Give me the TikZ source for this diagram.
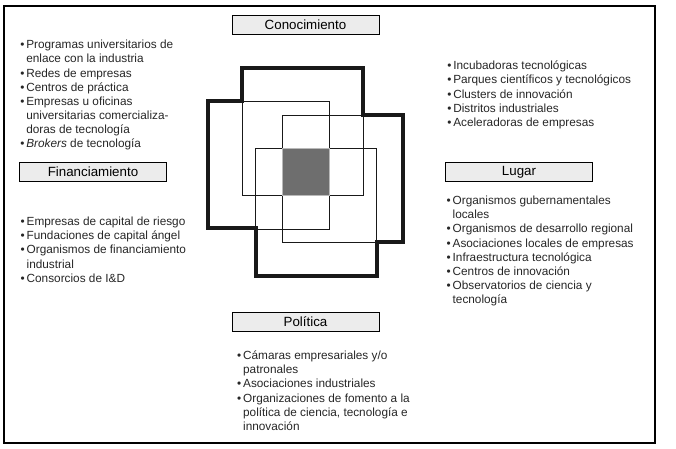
\documentclass[tikz,border=0pt]{standalone}
\usepackage{fontspec}
\setmainfont{Liberation Sans}
\usetikzlibrary{positioning}

\newcommand{\vin}{\rule{0pt}{8.1pt}\makebox[4.5pt][l]{\textbullet}}
\newcommand{\sgte}{\hspace*{4.5pt}}

\tikzset{
  etiqueta/.style={draw, fill=gray!15, minimum width=110pt, minimum height=14.5pt, inner sep=0pt, font=\fontsize{10}{12}\selectfont},
  lista/.style={align=left, inner sep=0pt, font=\fontsize{8.85}{10.6}\selectfont, text=black!85},
  grueso/.style={line width=3.2pt, draw=black!90},
  fino/.style={line width=0.6pt, draw=black!90}
}

\begin{document}
\begin{tikzpicture}[x=0.75pt, y=-0.75pt]
\useasboundingbox (0,0) rectangle (676,449);
\draw[line width=0.9pt] (4,6) rectangle (655,443);

% contorno grueso
\draw[grueso] (242,68) -- (363,68) -- (363,115) -- (403,115) -- (403,242) -- (377,242)
  -- (377,276) -- (256,276) -- (256,228) -- (208,228) -- (208,101) -- (242,101) -- cycle;

% cuadros que se cruzan
\draw[fino] (242,101) rectangle (329,195);
\draw[fino] (282,115) rectangle (363,195);
\draw[fino] (255,148) rectangle (329,229);
\draw[fino] (282,148) rectangle (376,242);
\draw[fill=black!57, draw=gray!55, line width=0.6pt] (282,148) rectangle (329,195);

% etiquetas
\node (conocimiento) [etiqueta] at (305.5,25) {Conocimiento};
\node (financiamiento) [etiqueta] at (93,172) {Financiamiento};
\node (lugar) [etiqueta] at (519,172) {Lugar};
\node (politica) [etiqueta] at (305.5,322) {Política};

% listas
\node (conlista) [lista, anchor=north west] at (20,37.7) {\vin Programas universitarios de\\
  \sgte enlace con la industria\\
  \vin Redes de empresas\\
  \vin Centros de práctica\\
  \vin Empresas u oficinas\\
  \sgte universitarias comercializa-\\
  \sgte doras de tecnología\\
  \vin \textit{Brokers} de tecnología};
\node (parqueslista) [lista, anchor=north west] at (447,58.7) {\vin Incubadoras tecnológicas\\
  \vin Parques científicos y tecnológicos\\
  \vin Clusters de innovación\\
  \vin Distritos industriales\\
  \vin Aceleradoras de empresas};
\node (finlista) [lista, below right=24.5pt and 0.75pt of financiamiento.south west]
  {\vin Empresas de capital de riesgo\\
  \vin Fundaciones de capital ángel\\
  \vin Organismos de financiamiento\\
  \sgte industrial\\
  \vin Consorcios de I\&D};
\node (lugarlista) [lista, below right=8.75pt and 0.75pt of lugar.south west]
  {\vin Organismos gubernamentales\\
  \sgte locales\\
  \vin Organismos de desarrollo regional\\
  \vin Asociaciones locales de empresas\\
  \vin Infraestructura tecnológica\\
  \vin Centros de innovación\\
  \vin Observatorios de ciencia y\\
  \sgte tecnología};
\node (politicalista) [lista, below right=12.5pt and 3.75pt of politica.south west]
  {\vin Cámaras empresariales y/o\\
  \sgte patronales\\
  \vin Asociaciones industriales\\
  \vin Organizaciones de fomento a la\\
  \sgte política de ciencia, tecnología e\\
  \sgte innovación};
\end{tikzpicture}
\end{document}
